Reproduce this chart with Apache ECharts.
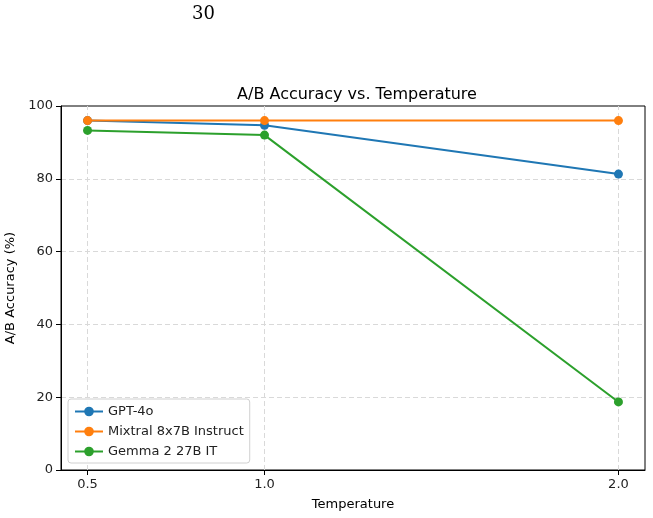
<!DOCTYPE html>
<html>
<head>
<meta charset="utf-8">
<script src="https://cdn.jsdelivr.net/npm/echarts@6/dist/echarts.min.js"></script>
<style>
  html, body { margin: 0; padding: 0; background: #fff; }
  #chart { width: 653px; height: 518px; }
</style>
</head>
<body>
<div id="chart"></div>
<script>
  // temperatures and accuracies
  var temps = [0.5, 1.0, 2.0];
  var gpt4o = [96.0, 94.7, 81.3];
  var mixtral = [96.0, 96.0, 96.0];
  var gemma = [93.3, 92.0, 18.7];
  var names = ['GPT-4o', 'Mixtral 8x7B Instruct', 'Gemma 2 27B IT'];
  var colors = ['#1f77b4', '#ff7f0e', '#2ca02c'];

  function pairs(vals) {
    return temps.map(function (t, i) { return [t, vals[i]]; });
  }

  var chart = echarts.init(document.getElementById('chart'));
  var font = 'DejaVu Sans';

  function lineSeries(i, vals) {
    return {
      name: names[i],
      type: 'line',
      data: pairs(vals),
      symbol: 'circle',
      symbolSize: 9,
      color: colors[i],
      lineStyle: { width: 2, color: colors[i] },
      itemStyle: { color: colors[i] },
      emphasis: { disabled: true },
      animation: false,
      z: 3 + i
    };
  }

  var series = [lineSeries(0, gpt4o), lineSeries(1, mixtral), lineSeries(2, gemma)];
  // vertical grid lines at the x ticks, kept under the lines
  series[0].markLine = {
    silent: true,
    symbol: 'none',
    z: 1,
    label: { show: false },
    lineStyle: { color: '#d9d9d9', type: [5, 3], width: 1 },
    data: temps.map(function (t) { return { xAxis: t }; }),
    animation: false
  };

  chart.setOption({
    backgroundColor: '#fff',
    animation: false,
    textStyle: { fontFamily: font },
    title: {
      text: 'A/B Accuracy vs. Temperature',
      left: 352,
      textAlign: 'center',
      top: 82,
      textStyle: { fontFamily: font, fontSize: 16, fontWeight: 'normal', color: '#000' }
    },
    graphic: [{
      type: 'text',
      left: 192,
      top: 5,
      style: { text: '30', font: '18px "DejaVu Serif"', fill: '#000' }
    }],
    grid: {
      left: 61, right: 8, top: 106, bottom: 48,
      containLabel: false,
      outerBoundsMode: 'none',
      show: true, borderColor: '#000', borderWidth: 1
    },
    legend: {
      orient: 'vertical',
      left: 68,
      bottom: 55,
      padding: [6, 6, 5, 6],
      itemGap: 7,
      itemWidth: 28,
      itemHeight: 12,
      backgroundColor: 'rgba(255,255,255,0.85)',
      borderColor: '#d0d0d0',
      borderWidth: 1,
      borderRadius: 3,
      textStyle: { fontFamily: font, fontSize: 13, color: '#222' },
      data: names
    },
    xAxis: {
      type: 'value',
      min: 0.425,
      max: 2.075,
      name: 'Temperature',
      nameLocation: 'middle',
      nameGap: 28,
      nameTextStyle: { fontFamily: font, fontSize: 13, color: '#000' },
      axisLine: { show: true, lineStyle: { color: '#000', width: 1 } },
      axisTick: { show: true, customValues: temps, length: 5, lineStyle: { color: '#000' } },
      axisLabel: {
        customValues: temps,
        color: '#222',
        fontSize: 13,
        margin: 8,
        formatter: function (v) { return v.toFixed(1); }
      },
      splitLine: { show: false }
    },
    yAxis: {
      type: 'value',
      min: 0,
      max: 100,
      interval: 20,
      name: 'A/B Accuracy (%)',
      nameLocation: 'middle',
      nameGap: 40,
      nameTextStyle: { fontFamily: font, fontSize: 13, color: '#000' },
      axisLine: { show: true, lineStyle: { color: '#000', width: 1 } },
      axisTick: { show: true, length: 5, lineStyle: { color: '#000' } },
      axisLabel: { color: '#222', fontSize: 13, margin: 8 },
      splitLine: {
        show: true,
        showMinLine: false,
        showMaxLine: false,
        lineStyle: { color: '#d9d9d9', type: [5, 3], width: 1 }
      }
    },
    series: series
  });
</script>
</body>
</html>
